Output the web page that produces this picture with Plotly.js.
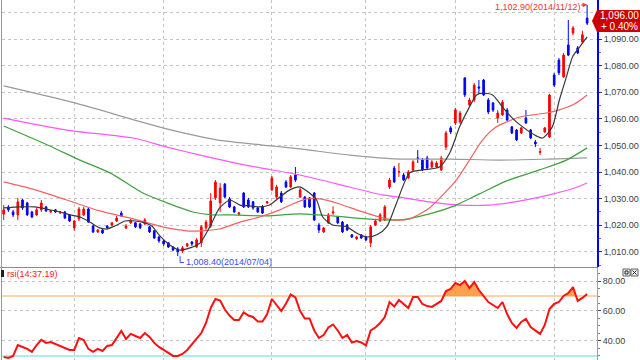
<!DOCTYPE html>
<html><head><meta charset="utf-8">
<script src="https://cdn.plot.ly/plotly-3.0.1.min.js"></script>
<style>html,body{margin:0;padding:0;background:#fff;overflow:hidden}#chart{width:640px;height:360px}</style>
</head><body><div id="chart"></div>
<script>
const dates = [
'2014-05-12','2014-05-13','2014-05-14','2014-05-15','2014-05-16','2014-05-19','2014-05-20','2014-05-21','2014-05-22','2014-05-23','2014-05-26','2014-05-27','2014-05-28','2014-05-29','2014-05-30',
'2014-06-02','2014-06-03','2014-06-05','2014-06-09','2014-06-10','2014-06-11','2014-06-12','2014-06-13','2014-06-16','2014-06-17','2014-06-18','2014-06-19','2014-06-20','2014-06-23','2014-06-24','2014-06-25','2014-06-26','2014-06-27','2014-06-30',
'2014-07-01','2014-07-02','2014-07-03','2014-07-04','2014-07-07','2014-07-08','2014-07-09','2014-07-10','2014-07-11','2014-07-14','2014-07-15','2014-07-16','2014-07-17','2014-07-18','2014-07-21','2014-07-22','2014-07-23','2014-07-24','2014-07-25','2014-07-28','2014-07-29','2014-07-30','2014-07-31',
'2014-08-01','2014-08-04','2014-08-05','2014-08-06','2014-08-07','2014-08-08','2014-08-11','2014-08-12','2014-08-13','2014-08-14','2014-08-18','2014-08-19','2014-08-20','2014-08-21','2014-08-22','2014-08-25','2014-08-26','2014-08-27','2014-08-28','2014-08-29',
'2014-09-01','2014-09-02','2014-09-03','2014-09-04','2014-09-05','2014-09-11','2014-09-12','2014-09-15','2014-09-16','2014-09-17','2014-09-18','2014-09-19','2014-09-22','2014-09-23','2014-09-24','2014-09-25','2014-09-26','2014-09-29','2014-09-30',
'2014-10-01','2014-10-02','2014-10-06','2014-10-07','2014-10-08','2014-10-10','2014-10-13','2014-10-14','2014-10-15','2014-10-16','2014-10-17','2014-10-20','2014-10-21','2014-10-22','2014-10-23','2014-10-24','2014-10-27','2014-10-28','2014-10-29','2014-10-30','2014-10-31',
'2014-11-03','2014-11-04','2014-11-05','2014-11-06','2014-11-07','2014-11-10','2014-11-11','2014-11-12'];

const openP = [1024.2,1026.9,1025.0,1023.9,1029.5,1028.4,1025.0,1023.9,1025.8,1026.9,
1025.0,1025.8,1024.6,1025.0,1023.9,1019.0,1022.4,1023.9,1026.1,1019.7,
1017.5,1018.2,1019.7,1020.1,1021.6,1024.6,1019.0,1020.9,1020.9,1020.5,
1020.5,1019.4,1017.9,1015.6,1014.1,1013.4,1011.8,1011.1,1010.3,1012.2,
1013.7,1011.8,1013.4,1019.0,1019.7,1030.3,1028.4,1035.5,1029.9,1026.9,
1024.2,1032.1,1029.5,1028.8,1026.5,1026.9,1028.4,1033.3,1030.6,1032.1,
1036.3,1034.4,1038.9,1030.6,1030.6,1030.3,1032.1,1020.1,1017.5,1020.9,
1024.6,1023.1,1021.2,1020.1,1016.4,1014.9,1016.4,1015.6,1013.4,1020.1,
1021.6,1022.0,1034.4,1041.5,1040.0,1038.9,1037.8,1040.8,1045.3,1044.5,
1045.3,1041.9,1041.9,1040.8,1049.4,1056.6,1058.5,1058.8,1075.4,1065.2,
1067.1,1072.0,1074.6,1067.1,1066.0,1060.3,1061.5,1063.3,1057.0,1055.8,
1054.7,1060.3,1055.8,1051.3,1047.4,1055.1,1053.2,1076.5,1082.1,1075.8,
1087.8,1092.3,1086.7,1088.9,1097.9];
const highP = [1027.6,1027.6,1025.8,1030.3,1029.9,1028.8,1025.4,1026.5,1029.5,1027.3,
1025.8,1026.1,1025.4,1025.4,1024.2,1022.0,1026.9,1026.9,1026.5,1020.1,
1018.6,1018.6,1020.1,1021.2,1023.5,1025.4,1020.5,1022.4,1021.2,1020.9,
1022.7,1019.7,1018.2,1016.0,1014.5,1013.7,1012.2,1011.8,1012.2,1013.4,
1014.1,1015.2,1020.1,1022.0,1032.1,1037.0,1035.9,1035.9,1030.6,1027.3,
1025.0,1032.5,1030.3,1029.1,1026.9,1027.6,1029.1,1038.5,1035.2,1032.9,
1037.0,1038.9,1041.9,1034.0,1031.0,1030.6,1032.5,1020.9,1019.4,1024.6,
1027.1,1023.5,1021.6,1020.5,1016.7,1016.0,1016.7,1016.0,1020.1,1022.4,
1024.6,1027.6,1037.8,1042.3,1043.4,1039.7,1040.8,1044.5,1048.3,1045.3,
1046.1,1044.5,1044.2,1046.1,1055.5,1057.3,1064.1,1063.0,1075.7,1067.9,
1073.5,1074.6,1075.0,1067.9,1066.3,1063.3,1067.1,1064.1,1057.3,1056.2,
1057.0,1063.3,1056.2,1052.1,1049.1,1057.0,1069.4,1077.3,1082.9,1084.8,
1097.2,1094.9,1087.4,1093.1,1102.9];
const lowP = [1022.0,1025.0,1023.1,1022.0,1025.8,1023.5,1022.7,1023.5,1025.0,1025.0,
1024.6,1024.6,1024.2,1022.4,1021.2,1017.9,1021.6,1023.5,1020.9,1017.1,
1017.1,1016.7,1018.6,1019.7,1021.2,1023.1,1018.6,1020.5,1019.0,1018.6,
1020.1,1017.1,1014.9,1013.4,1012.2,1011.5,1010.3,1008.4,1009.6,1011.8,
1012.2,1011.5,1011.8,1018.2,1019.0,1029.5,1025.0,1030.3,1026.5,1024.6,
1023.5,1026.5,1026.5,1025.8,1024.6,1024.2,1028.0,1032.9,1029.9,1028.4,
1034.0,1034.0,1036.3,1030.3,1026.5,1026.5,1021.6,1017.1,1017.1,1020.5,
1023.9,1020.5,1017.1,1017.9,1015.2,1014.5,1014.9,1014.1,1011.8,1019.7,
1021.2,1021.6,1033.6,1035.9,1038.2,1036.7,1037.4,1040.4,1043.4,1040.4,
1041.2,1041.5,1041.5,1040.4,1048.3,1054.3,1057.7,1058.1,1068.2,1064.9,
1066.3,1069.4,1068.6,1061.8,1062.6,1058.5,1061.1,1059.2,1054.3,1051.7,
1054.3,1058.1,1052.4,1049.4,1046.4,1054.7,1052.8,1072.0,1076.5,1075.4,
1083.6,1091.5,1084.4,1088.2,1095.3];
const closeP = [1025.8,1025.8,1023.9,1028.8,1026.5,1023.9,1023.1,1025.8,1028.4,1025.4,
1025.4,1025.0,1025.0,1022.7,1021.6,1021.6,1026.1,1026.1,1021.2,1017.5,
1018.2,1017.1,1019.0,1020.9,1022.7,1023.5,1019.7,1021.6,1019.4,1019.0,
1022.0,1017.5,1015.2,1014.1,1013.0,1011.8,1010.7,1010.0,1011.5,1013.0,
1013.0,1014.5,1019.4,1021.2,1029.1,1036.3,1034.0,1030.6,1026.9,1025.0,
1024.6,1026.9,1026.9,1026.5,1025.0,1024.6,1028.8,1037.8,1034.4,1028.8,
1034.4,1038.2,1037.0,1033.3,1026.9,1026.9,1022.0,1018.2,1019.0,1023.9,
1025.0,1020.9,1017.5,1018.2,1015.6,1015.6,1015.2,1014.5,1019.4,1021.6,
1023.9,1026.9,1037.0,1036.3,1040.1,1037.0,1040.0,1043.8,1045.2,1040.8,
1041.5,1043.8,1043.4,1045.3,1054.7,1055.1,1063.4,1062.2,1069.0,1067.1,
1072.7,1071.6,1069.0,1062.6,1063.3,1062.2,1066.3,1059.6,1054.7,1052.1,
1056.6,1058.5,1052.8,1050.6,1047.7,1056.6,1069.0,1072.7,1077.3,1084.0,
1084.0,1094.2,1084.8,1091.6,1096.0];

// moving averages (position in trading-day index, value)
const ma5X = [0,3.5,6.6,9.8,12,14.1,16.2,18.3,20.4,21.9,23.6,25.8,27.9,30,31.5,33.2,35.3,37.4,39.6,41.7,43.8,45.9,48.1,50.2,52.3,54.4,56.5,58.7,60.8,62.9,65,66.5,67.8,69.9,72.9,75,77.1,79.3,81.4,83.5,86.3,89,92.6,94.8,96.9,99,100.5,101.8,103.9,106,108.1,110.3,113.2,114.5,116.6,118.1,119.6,120.9,122.4,124];
const ma5Y = [1026.5,1026.9,1026.9,1025.8,1025.0,1023.9,1023.1,1021.2,1019.0,1018.6,1019.7,1021.6,1021.6,1020.9,1019.7,1016.0,1012.6,1010.7,1011.5,1013.3,1019.4,1026.5,1029.5,1027.6,1027.3,1026.9,1027.6,1030.6,1033.3,1034.4,1032.1,1029.5,1023.1,1020.1,1019.4,1017.1,1015.6,1016.4,1019.4,1028.4,1039.7,1040.8,1041.9,1047.2,1057.0,1064.5,1069.0,1069.7,1069.0,1064.5,1060.3,1057.0,1053.6,1052.8,1057.0,1067.1,1075.8,1083.3,1087.0,1090.8];
const ma20X = [0,6.2,13.4,20.4,27.5,34.7,38.9,41.7,45.9,50.2,54.4,58.7,61.4,64.4,67.2,71.4,75.6,79.9,83.1,86.3,90.5,93.7,96.2,99,101.8,104.7,106.9,109.6,112.4,115.3,118.1,121.3,124];
const ma20Y = [1036.3,1033.6,1029.5,1025.4,1022.4,1019.0,1017.9,1017.9,1018.6,1021.2,1023.1,1025.8,1028.0,1029.9,1029.9,1028.0,1025.4,1023.1,1022.0,1022.4,1026.5,1032.1,1037.0,1044.5,1052.1,1057.0,1058.8,1060.7,1061.5,1062.2,1063.4,1065.6,1069.0];
const ma60X = [0,9.8,16.2,22.6,29.6,34.7,40.2,44.4,48.7,55.9,62.9,69.9,77.1,84.1,90.5,95.8,101.1,106.9,113.9,119.6,124];
const ma60Y = [1057.3,1049.8,1044.5,1039.7,1032.1,1028.4,1025.0,1023.9,1023.9,1023.5,1024.3,1023.5,1022.4,1022.0,1024.3,1027.3,1031.8,1036.7,1040.8,1044.5,1049.1];
const ma120X = [0,13.4,27.5,34.7,41.7,52.3,55.9,62.9,73.5,80.5,84.1,90.5,96.9,103.3,109.6,116,121.3,124];
const ma120Y = [1060.3,1055.8,1052.8,1049.4,1046.4,1042.3,1041.2,1038.9,1034.4,1031.4,1030.6,1028.8,1027.6,1027.6,1029.1,1031.4,1034.0,1035.9];
const ma240X = [0,15.1,33.8,45.3,57,62.9,73.5,84.1,94.8,105.4,116,124];
const ma240Y = [1072.4,1066.0,1056.6,1052.1,1049.8,1048.7,1046.4,1044.9,1044.9,1044.5,1044.9,1045.3];

const rsi = [29.3,28.7,30.0,37.3,36.0,34.7,32.7,37.3,40.7,38.7,
39.3,38.0,36.7,35.3,34.0,34.0,42.0,40.7,34.7,32.7,
34.7,33.3,36.7,37.3,42.0,46.7,41.3,44.7,43.3,42.0,
45.3,42.7,38.7,36.0,34.0,32.0,30.0,30.0,31.3,34.0,
38.0,41.3,45.3,52.0,62.0,68.0,67.0,61.0,57.0,54.0,
54.0,59.0,57.0,56.0,53.0,53.0,58.0,68.0,64.0,60.0,
65.0,71.0,69.0,60.0,55.0,55.0,47.0,42.0,44.0,49.0,
51.0,47.0,42.0,44.0,39.0,40.0,39.0,37.0,47.0,49.0,
52.0,56.0,66.0,63.0,67.3,64.7,62.0,69.3,69.3,64.7,
63.3,62.7,64.7,66.7,73.3,74.7,78.7,77.3,80.0,75.3,
79.3,74.0,70.0,66.0,64.0,62.0,66.0,58.0,52.0,48.7,
52.7,54.7,49.3,46.7,44.7,50.7,61.3,64.7,66.0,70.0,
72.0,76.0,66.7,68.7,71.3];

const monthStarts = ['2014-06-02','2014-07-01','2014-08-01','2014-09-01','2014-10-01','2014-11-03'];
const priceTicks = [1010,1020,1030,1040,1050,1060,1070,1080,1090,1100];
const rsiTicks = [40,60,80];
const rsiUpper = 70, rsiLower = 30;
const maxLabel = '1,102.90(2014/11/12)';
const minLabel = '1,008.40(2014/07/04)';
const rsiLabel = 'rsi(14:37.19)';

const idx = dates.map((d,i)=>i);
const monthIdx = monthStarts.map(d=>dates.indexOf(d));
const last = closeP.length-1;
const chg = (closeP[last]/closeP[last-1]-1)*100;
const iMax = highP.indexOf(Math.max(...highP));
const iMin = lowP.indexOf(Math.min(...lowP));

// overbought fill polygon
const fx=[], fy=[];
for(let i=0;i<rsi.length;i++){
  if(i>0){const a=rsi[i-1], b=rsi[i]; if((a-rsiUpper)*(b-rsiUpper)<0){const t=(rsiUpper-a)/(b-a); fx.push(i-1+t); fy.push(rsiUpper);}}
  fx.push(i); fy.push(Math.max(rsi[i],rsiUpper));
}

const px = v => (v-2)/595;      // pixel x -> paper
const py = v => 1 - v/360;      // pixel y -> paper

const FONT = 'Liberation Sans, Arial, sans-serif';
const lineTr = (x,y,color,w,shape) => ({type:'scatter',mode:'lines',x:x,y:y,xaxis:'x',yaxis:'y',
  line:{color:color,width:w,shape:shape||'spline',smoothing:0.7},hoverinfo:'skip'});

const traces = [
  lineTr(ma240X,ma240Y,'#9a9a9a',1.2),
  lineTr(ma120X,ma120Y,'#ff55ff',1.2),
  lineTr(ma60X,ma60Y,'#3fa23f',1.2),
  lineTr(ma20X,ma20Y,'#f26262',1.2),
  {type:'candlestick',x:idx,open:openP,high:highP,low:lowP,close:closeP,xaxis:'x',yaxis:'y',
   hovertext:dates,whiskerwidth:0,
   increasing:{line:{color:'#ff0000',width:1},fillcolor:'#ff0000'},
   decreasing:{line:{color:'#0000ff',width:1},fillcolor:'#0000ff'}},
  lineTr(ma5X,ma5Y,'#383838',1.2),
  {type:'scatter',mode:'lines',x:fx,y:fx.map(()=>rsiUpper),xaxis:'x2',yaxis:'y2',line:{width:0,color:'rgba(0,0,0,0)'},hoverinfo:'skip'},
  {type:'scatter',mode:'lines',x:fx,y:fy,xaxis:'x2',yaxis:'y2',fill:'tonexty',fillcolor:'rgba(255,150,60,0.9)',line:{width:0,color:'rgba(0,0,0,0)'},hoverinfo:'skip'},
  {type:'scatter',mode:'lines',x:idx,y:rsi,xaxis:'x2',yaxis:'y2',line:{color:'#ff1010',width:2},hoverinfo:'skip'}
];

const gridX = {tickvals:monthIdx,showticklabels:false,ticks:'',showgrid:true,gridcolor:'#c4c4c4',griddash:'dot',gridwidth:1,zeroline:false,showline:false,range:[-0.36,126.1],fixedrange:true};

const layout = {
  width:640,height:360,margin:{l:2,r:43,t:0,b:0},
  paper_bgcolor:'#ffffff',plot_bgcolor:'#ffffff',showlegend:false,
  font:{family:FONT,size:9,color:'#404040'},
  boxgap:0.5,
  xaxis:Object.assign({},gridX,{domain:[0,1],anchor:'y',rangeslider:{visible:false}}),
  xaxis2:Object.assign({},gridX,{domain:[0,1],anchor:'y2'}),
  yaxis:{domain:[0.2583,1],range:[1004.3,1104.7],side:'right',anchor:'x',tickvals:priceTicks,tickformat:',.2f',
    ticks:'outside',ticklen:3,tickcolor:'#404040',showline:true,linecolor:'#0000ff',linewidth:2,
    showgrid:true,gridcolor:'#c4c4c4',griddash:'dot',zeroline:false,fixedrange:true,
    minor:{ticks:'outside',ticklen:2,dtick:5,tickcolor:'#808080',showgrid:false},
    tickfont:{size:9,color:'#404040'}},
  yaxis2:{domain:[0,0.2556],range:[27.3,88.7],side:'right',anchor:'x2',tickvals:rsiTicks,tickformat:'.2f',
    ticks:'outside',ticklen:3,tickcolor:'#404040',showline:true,linecolor:'#a0a0a0',linewidth:1,
    showgrid:true,gridcolor:'#c4c4c4',griddash:'dot',zeroline:false,fixedrange:true,
    minor:{ticks:'outside',ticklen:2,dtick:5,tickcolor:'#808080',showgrid:false},
    tickfont:{size:9,color:'#404040'}},
  shapes:[
    {type:'line',xref:'paper',yref:'y2',x0:0,x1:1,y0:rsiUpper,y1:rsiUpper,line:{color:'#ffd2aa',width:2},layer:'below'},
    {type:'line',xref:'paper',yref:'y2',x0:0,x1:1,y0:rsiLower,y1:rsiLower,line:{color:'#a8f0ea',width:2},layer:'below'},
    {type:'line',xref:'paper',yref:'paper',x0:px(0),x1:px(598),y0:py(267.5),y1:py(267.5),line:{color:'#8c8c8c',width:1}},
    {type:'line',xref:'paper',yref:'paper',x0:px(1.5),x1:px(1.5),y0:0,y1:1,line:{color:'#9a9a9a',width:1}},
    {type:'rect',xref:'paper',yref:'paper',x0:px(1),x1:px(4),y0:py(277),y1:py(270),fillcolor:'#202020',line:{width:0}},
    {type:'line',xref:'x',yref:'y',x0:iMin+0.5,x1:iMin+0.5,y0:lowP[iMin],y1:1006.0,line:{color:'#3050ff',width:1}},
    {type:'line',xref:'x',yref:'y',x0:iMin+0.5,x1:iMin+1.3,y0:1006.0,y1:1006.0,line:{color:'#3050ff',width:1}},
    {type:'path',xref:'paper',yref:'paper',
     path:'M '+px(597)+' '+py(10)+' L '+px(640)+' '+py(10)+' L '+px(640)+' '+py(32)+' L '+px(597)+' '+py(32)+' L '+px(592)+' '+py(21)+' Z',
     fillcolor:'#cc0000',line:{width:0}},
    {type:'rect',xref:'paper',yref:'paper',x0:px(623),x1:px(630),y0:py(276),y1:py(269),fillcolor:'#f4f4f4',line:{color:'#606060',width:1}},
    {type:'rect',xref:'paper',yref:'paper',x0:px(625),x1:px(628),y0:py(274),y1:py(271),fillcolor:'rgba(0,0,0,0)',line:{color:'#202020',width:1}},
    {type:'rect',xref:'paper',yref:'paper',x0:px(631),x1:px(638),y0:py(276),y1:py(269),fillcolor:'#f4f4f4',line:{color:'#606060',width:1}},
    {type:'line',xref:'paper',yref:'paper',x0:px(632.5),x1:px(636.5),y0:py(270.5),y1:py(274.5),line:{color:'#202020',width:1}},
    {type:'line',xref:'paper',yref:'paper',x0:px(632.5),x1:px(636.5),y0:py(274.5),y1:py(270.5),line:{color:'#202020',width:1}}
  ],
  annotations:[
    {xref:'x',yref:'y',x:iMax,y:highP[iMax],text:maxLabel,showarrow:true,ax:-50,ay:2,arrowhead:2,arrowsize:0.9,arrowwidth:1,arrowcolor:'#ff3030',
     font:{family:FONT,size:9,color:'#ff3030'}},
    {xref:'x',yref:'y',x:iMin+1.3,y:1006.0,xanchor:'left',yanchor:'middle',text:minLabel,showarrow:false,
     font:{family:FONT,size:9,color:'#3050ff'}},
    {xref:'paper',yref:'paper',x:px(5),y:py(273.5),xanchor:'left',yanchor:'middle',text:rsiLabel,showarrow:false,
     font:{family:FONT,size:9,color:'#ff2020'}},
    {xref:'paper',yref:'paper',x:px(619),y:py(16),xanchor:'center',yanchor:'middle',showarrow:false,
     text:closeP[last].toLocaleString('en-US',{minimumFractionDigits:2,maximumFractionDigits:2}),font:{family:FONT,size:10,color:'#ffffff'}},
    {xref:'paper',yref:'paper',x:px(619),y:py(26.5),xanchor:'center',yanchor:'middle',showarrow:false,
     text:(chg>=0?'+ ':'- ')+Math.abs(chg).toFixed(2)+'%',font:{family:FONT,size:10,color:'#ffffff'}}
  ]
};

Plotly.newPlot('chart',traces,layout,{displayModeBar:false,staticPlot:true});
</script>
</body></html>
